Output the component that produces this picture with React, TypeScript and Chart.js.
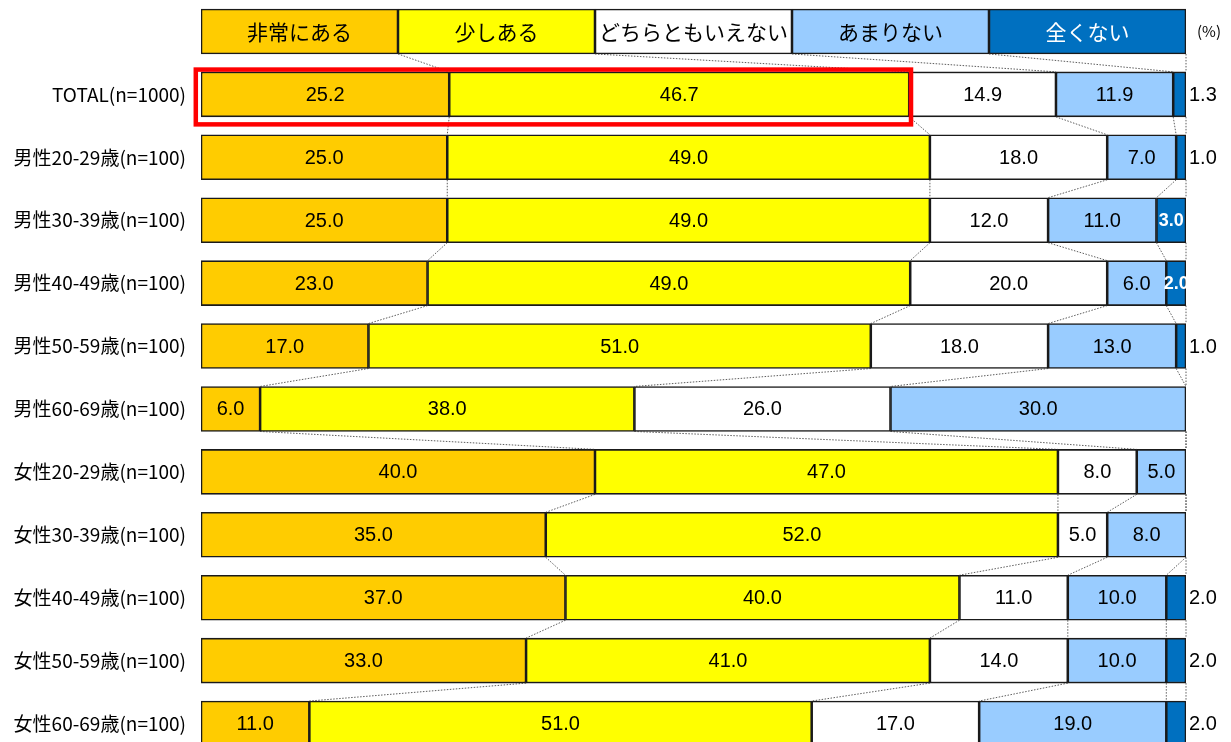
import React, { useEffect, useRef } from 'react';
import { Chart, registerables } from 'chart.js';

Chart.register(...registerables);

// ---- data ----
const categories = [
  '',
  'TOTAL(n=1000)',
  '男性20-29歳(n=100)',
  '男性30-39歳(n=100)',
  '男性40-49歳(n=100)',
  '男性50-59歳(n=100)',
  '男性60-69歳(n=100)',
  '女性20-29歳(n=100)',
  '女性30-39歳(n=100)',
  '女性40-49歳(n=100)',
  '女性50-59歳(n=100)',
  '女性60-69歳(n=100)',
];
const seriesNames = ['非常にある', '少しある', 'どちらともいえない', 'あまりない', '全くない'];
const legendRowValues = [20, 20, 20, 20, 20];
const veryMuch = [25.2, 25.0, 25.0, 23.0, 17.0, 6.0, 40.0, 35.0, 37.0, 33.0, 11.0];
const some = [46.7, 49.0, 49.0, 49.0, 51.0, 38.0, 47.0, 52.0, 40.0, 41.0, 51.0];
const neutral = [14.9, 18.0, 12.0, 20.0, 18.0, 26.0, 8.0, 5.0, 11.0, 14.0, 17.0];
const notMuch = [11.9, 7.0, 11.0, 6.0, 13.0, 30.0, 5.0, 8.0, 10.0, 10.0, 19.0];
const notAtAll = [1.3, 1.0, 3.0, 2.0, 1.0, 0.0, 0.0, 0.0, 2.0, 2.0, 2.0];
const unitLabel = '(%)';

// ---- styles ----
const colors = ['#FFCC00', '#FFFF00', '#FFFFFF', '#99CCFF', '#0070C0'];
const lastLabelMode = ['out', 'out', 'in', 'in', 'out', 'none', 'none', 'none', 'out', 'out', 'out'];
const CJK = '"Noto Sans CJK JP", "Noto Sans", sans-serif';
const NUM = '"Liberation Sans", Arial, sans-serif';

const series = [veryMuch, some, neutral, notMuch, notAtAll];

const overlayPlugin = {
  id: 'overlay',
  afterDatasetsDraw(chart: any) {
    const ctx = chart.ctx;
    const metas = chart.data.datasets.map((_: any, i: number) => chart.getDatasetMeta(i));
    const nRows = categories.length;
    const area = chart.chartArea;

    // connector lines
    ctx.save();
    ctx.strokeStyle = '#333';
    ctx.lineWidth = 0.8;
    ctx.setLineDash([1.5, 1.5]);
    for (let r = 0; r < nRows - 1; r++) {
      for (let k = 0; k < metas.length; k++) {
        const a = metas[k].data[r];
        const b = metas[k].data[r + 1];
        ctx.beginPath();
        ctx.moveTo(a.x, a.y + a.height / 2);
        ctx.lineTo(b.x, b.y - b.height / 2);
        ctx.stroke();
      }
    }
    ctx.restore();

    // labels
    ctx.save();
    ctx.textBaseline = 'middle';
    for (let k = 0; k < metas.length; k++) {
      for (let r = 0; r < nRows; r++) {
        const el = metas[k].data[r];
        const cx = (el.x + el.base) / 2;
        const cy = el.y + 1;
        if (r === 0) {
          ctx.font = `21px ${CJK}`;
          ctx.fillStyle = k === 4 ? '#FFFFFF' : '#000000';
          ctx.textAlign = 'center';
          ctx.fillText(seriesNames[k], cx, cy);
          continue;
        }
        const v = series[k][r - 1];
        if (!v) continue;
        const txt = v.toFixed(1);
        if (k === 4) {
          const mode = lastLabelMode[r - 1];
          if (mode === 'out') {
            ctx.font = `20px ${NUM}`;
            ctx.fillStyle = '#000';
            ctx.textAlign = 'left';
            ctx.fillText(txt, el.x + 3, cy);
          } else if (mode === 'in') {
            ctx.font = `bold 18px ${NUM}`;
            ctx.fillStyle = '#FFF';
            ctx.textAlign = 'center';
            ctx.fillText(txt, cx, cy);
          }
        } else {
          ctx.font = `20px ${NUM}`;
          ctx.fillStyle = '#000';
          ctx.textAlign = 'center';
          ctx.fillText(txt, cx, cy);
        }
      }
    }
    // unit
    ctx.font = `15px ${CJK}`;
    ctx.fillStyle = '#000';
    ctx.textAlign = 'left';
    const e0 = metas[0].data[0];
    ctx.fillText(unitLabel, area.right + 11, e0.y);

    // red highlight rectangle around TOTAL first two segments
    const t0 = metas[0].data[1];
    const t1 = metas[1].data[1];
    ctx.strokeStyle = '#FF0000';
    ctx.lineWidth = 4.5;
    const left = t0.base - 5.2;
    const right = t1.x + 1.8;
    const top = t0.y - t0.height / 2 - 2.3;
    const bottom = t0.y + t0.height / 2 + 7.5;
    ctx.strokeRect(left, top, right - left, bottom - top);
    ctx.restore();
  },
};

export default function App() {
  const ref = useRef<HTMLCanvasElement>(null);
  useEffect(() => {
    if (!ref.current) return;
    const chart = new Chart(ref.current, {
      type: 'bar',
      data: {
        labels: categories,
        datasets: seriesNames.map((name, k) => ({
          label: name,
          data: [legendRowValues[k], ...series[k]],
          backgroundColor: colors[k],
          borderColor: '#1a1a1a',
          borderWidth: 1.6,
          borderSkipped: false,
          barThickness: 45,
        })),
      },
      options: {
        indexAxis: 'y',
        responsive: false,
        animation: false,
        layout: { padding: { left: 0, right: 45, top: 0, bottom: 0 } },
        plugins: {
          legend: { display: false },
          tooltip: { enabled: false },
          title: { display: false },
        },
        scales: {
          x: {
            stacked: true,
            min: 0,
            max: 100,
            display: false,
          },
          y: {
            stacked: true,
            grid: { display: false, drawTicks: true, tickLength: 15 },
            border: { display: false },
            ticks: {
              autoSkip: false,
              padding: 0,
              color: '#000',
              font: { family: CJK, size: 19 },
            },
            afterFit: (scale: any) => {
              scale.width = 201;
              scale.paddingTop = 0;
              scale.paddingBottom = 0;
            },
          },
        },
      },
      plugins: [overlayPlugin],
    });
    return () => chart.destroy();
  }, []);
  return (
    <div
      style={{
        position: 'fixed',
        left: 0,
        top: 0,
        width: 1231,
        height: 742,
        overflow: 'hidden',
        background: '#fff',
      }}
    >
      <canvas ref={ref} width={1231} height={755} style={{ display: 'block' }} />
    </div>
  );
}
